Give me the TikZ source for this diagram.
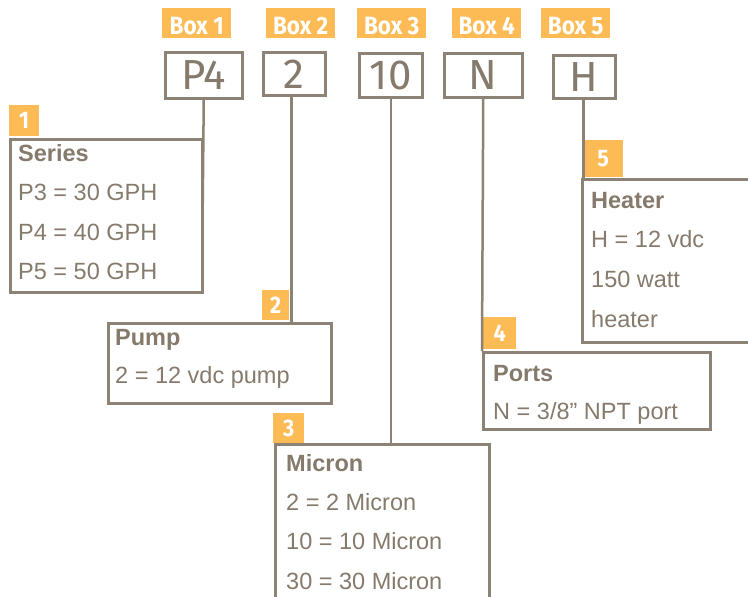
\documentclass[tikz,border=0pt]{standalone}
\usepackage{fontspec}
\setmainfont{Liberation Sans}
\newfontfamily\dinfont{Fira Sans}
\newfontfamily\tagfont{Fira Sans}[FakeStretch=0.9]
\usetikzlibrary{positioning}
\definecolor{taupe}{HTML}{8C8275}
\definecolor{ink}{HTML}{857A6C}
\definecolor{amber}{HTML}{FDBB55}
\tikzset{
  boxtag/.style={fill=amber, text=white, inner sep=0, anchor=north west,
    minimum width=69, minimum height=30, text height=22, text depth=0,
    font=\tagfont\bfseries\fontsize{25}{25}\selectfont},
  numtag/.style={fill=amber, text=white, inner sep=0, anchor=north west,
    text height=16, text depth=0,
    font=\tagfont\bfseries\fontsize{24}{24}\selectfont},
  codebox/.style={draw=taupe, line width=2.5, text=ink, inner sep=0,
    anchor=north west, text height=29, text depth=0,
    font=\dinfont\fontsize{42}{42}\selectfont},
  descbox/.style={draw=taupe, line width=2.5, inner sep=0, anchor=north west},
  head/.style={text=ink, inner sep=0, anchor=base west,
    font=\bfseries\fontsize{23.5}{25}\selectfont},
  item/.style={text=ink, inner sep=0, anchor=base west,
    font=\fontsize{23.5}{25}\selectfont},
  wire/.style={draw=taupe, line width=2.5}
}
\begin{document}
\begin{tikzpicture}[x=1pt, y=-1pt]
  \useasboundingbox[fill=white] (0,0) rectangle (748,597);

  % orange box labels
  \foreach \x [count=\i] in {162,266,357,452,541}
    \node[boxtag] (box\i) at (\x,8) {Box \i};

  % code boxes
  \node[codebox, minimum width=77, minimum height=46] (c1) at (164,51) {P4};
  \node[codebox, minimum width=62, minimum height=43] (c2) at (262,51) {2};
  \node[codebox, minimum width=63, minimum height=44] (c3) at (358,52) {10};
  \node[codebox, minimum width=78, minimum height=44] (c4) at (443,52) {N};
  \node[codebox, minimum width=62, minimum height=43] (c5) at (552,54) {H};

  % Series
  \node[numtag, minimum width=30, minimum height=31] (n1) at (9,105) {1};
  \node[descbox, minimum width=192, minimum height=153] (series) at (9,138) {};
  \node[head] (series-h) at (18,161) {Series};
  \foreach \t [count=\i] in {P3 = 30 GPH, P4 = 40 GPH, P5 = 50 GPH}
    \node[item] (series-\i) at (18,{161+39.6*\i}) {\t};

  % Pump
  \node[numtag, minimum width=27, minimum height=30] (n2) at (262,290) {2};
  \node[descbox, minimum width=223, minimum height=80] (pump) at (107,322) {};
  \node[head] (pump-h) at (115,345) {Pump};
  \node[item] (pump-1) at (115,383) {2 = 12 vdc pump};

  % Micron
  \node[numtag, minimum width=31, minimum height=30] (n3) at (273,413) {3};
  \node[descbox, minimum width=214, minimum height=170] (micron) at (274,443) {};
  \node[head] (micron-h) at (286,471) {Micron};
  \foreach \t [count=\i] in {2 = 2 Micron, 10 = 10 Micron, 30 = 30 Micron}
    \node[item] (micron-\i) at (286,{471+39.4*\i}) {\t};

  % Ports
  \node[numtag, minimum width=33, minimum height=32] (n4) at (483,317) {4};
  \node[descbox, minimum width=227, minimum height=77] (ports) at (482,351) {};
  \node[head] (ports-h) at (493,381) {Ports};
  \node[item] (ports-1) at (493,419) {N = 3/8” NPT port};

  % Heater
  \node[numtag, minimum width=40, minimum height=37] (n5) at (583,140) {5};
  \node[descbox, minimum width=180, minimum height=163] (heater) at (581,178) {};
  \node[head] (heater-h) at (591,208) {Heater};
  \foreach \t [count=\i] in {H = 12 vdc, 150 watt, heater}
    \node[item] (heater-\i) at (591,{208+39.8*\i}) {\t};

  % connectors
  \coordinate (s1end) at (202.5,230);
  \draw[wire] (c1.south) -- (s1end);
  \draw[wire] ([xshift=-3]c2.south) -- ([xshift=-3]c2.south |- pump.north);
  \draw[wire] (c3.south) -- (c3.south |- micron.north);
  \draw[wire] (c4.south) -- (ports.north west);
  \draw[wire] ([xshift=-1]c5.south) -- ([xshift=-1]c5.south |- heater.north);

\end{tikzpicture}
\end{document}
